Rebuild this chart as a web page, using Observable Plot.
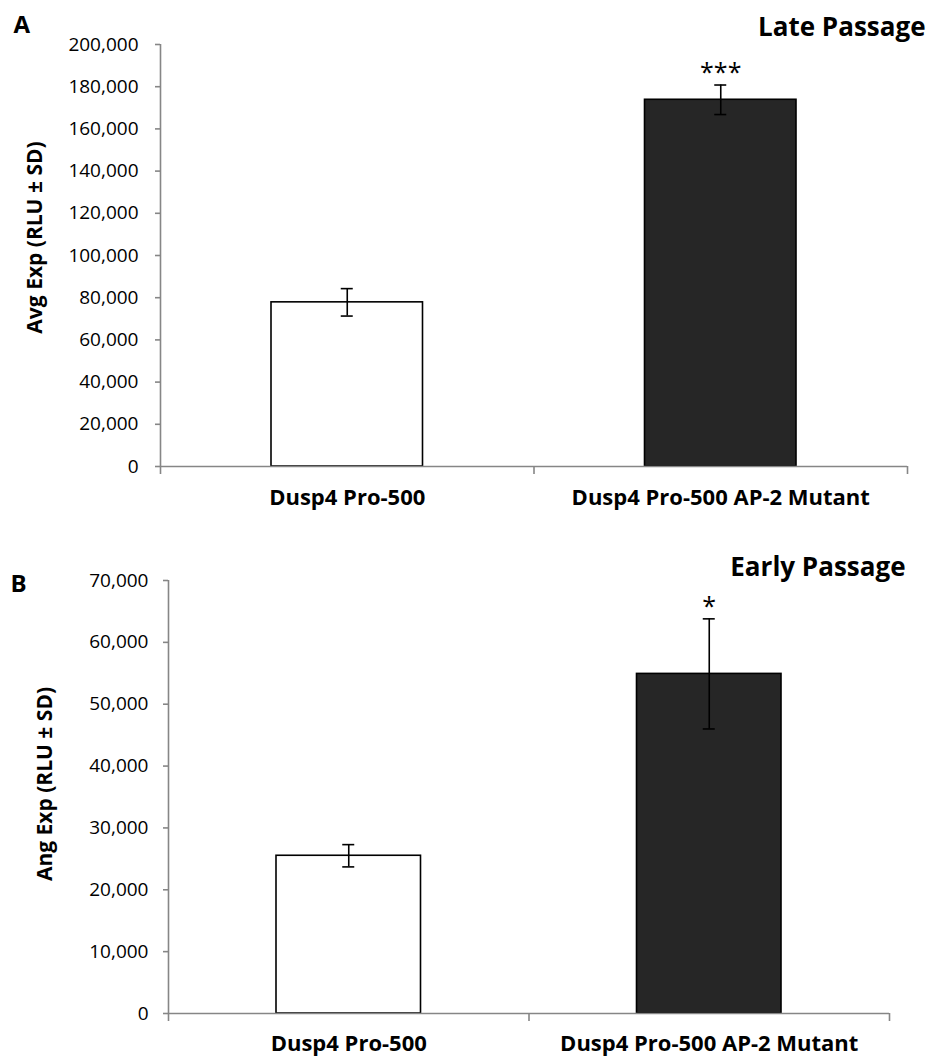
<!DOCTYPE html>
<html><head><meta charset="utf-8">
<script src="https://cdn.jsdelivr.net/npm/d3@7"></script>
<script src="https://cdn.jsdelivr.net/npm/@observablehq/plot@0.6"></script>
<style>
body{margin:0;background:#fff;}
#chart svg{display:block;}
</style>
</head><body><div id="chart"></div>
<script>
const categories = ["Dusp4 Pro-500", "Dusp4 Pro-500 AP-2 Mutant"];
const barFills = ["#ffffff", "#262626"];

const lateValues = [77800, 173800];
const lateSD = [6500, 7000];
const lateSig = ["", "***"];
const lateTicks = [0, 20000, 40000, 60000, 80000, 100000, 120000, 140000, 160000, 180000, 200000];

const earlyValues = [25500, 54900];
const earlySD = [1800, 8900];
const earlySig = ["", "*"];
const earlyTicks = [0, 10000, 20000, 30000, 40000, 50000, 60000, 70000];

function panel(o) {
  const n = categories.length;
  const table = categories.map((c, i) => ({
    c, i, mid: i + 0.5, v: o.values[i],
    lo: o.values[i] - o.sd[i], hi: o.values[i] + o.sd[i],
    sig: o.sig[i], fill: barFills[i]
  }));
  const gray = "#868686";
  return Plot.plot({
    width: 930, height: o.height,
    marginTop: o.mt, marginBottom: o.mb, marginLeft: o.ml, marginRight: o.mr,
    style: {fontFamily: "'Open Sans', sans-serif", fontSize: "19px", color: "#000", background: "#fff", overflow: "visible"},
    x: {domain: [0, n], axis: null},
    y: {domain: [0, o.ticks[o.ticks.length - 1]], axis: null},
    marks: [
      Plot.rectY(table, {x1: "i", x2: d => d.i + 1, y: "v", fill: "fill", stroke: "#000", strokeWidth: 1.6, insetLeft: o.inset, insetRight: o.inset}),
      Plot.ruleY([0], {stroke: gray, strokeWidth: 1.6}),
      Plot.ruleX([0], {stroke: gray, strokeWidth: 1.6}),
      Plot.axisY({ticks: o.ticks, tickFormat: d3.format(","), tickSize: 5, tickPadding: o.yPad, stroke: gray, strokeWidth: 1.6, label: null, fontSize: 19}),
      Plot.axisX({ticks: d3.range(n + 1), tickFormat: () => "", tickSize: 8, stroke: gray, strokeWidth: 1.6, label: null}),
      Plot.axisX({ticks: table.map(d => d.mid), tickFormat: d => categories[Math.floor(d)], tickSize: 0, tickPadding: o.xPad, label: null, fontWeight: "bold", fontSize: 22}),
      Plot.ruleX(table, {x: "mid", y1: "lo", y2: "hi", stroke: "#000", strokeWidth: 1.6}),
      Plot.ruleY(table, {y: "lo", x1: "mid", x2: "mid", insetLeft: -6, insetRight: -6, stroke: "#000", strokeWidth: 1.6}),
      Plot.ruleY(table, {y: "hi", x1: "mid", x2: "mid", insetLeft: -6, insetRight: -6, stroke: "#000", strokeWidth: 1.6}),
      Plot.text(table, {x: "mid", y: "hi", text: "sig", dy: -4, lineAnchor: "bottom", fontSize: 25}),
      Plot.text([o.label], {frameAnchor: "left", rotate: -90, dx: o.labelDx, dy: o.labelDy, fontWeight: "bold", fontSize: 21, textAnchor: "middle"}),
      Plot.text([o.title], {frameAnchor: "top-right", dx: o.titleDx, dy: o.titleDy, textAnchor: "end", lineAnchor: "bottom", fontWeight: "bold", fontSize: 26}),
      Plot.text([o.letter], {frameAnchor: "top-left", dx: o.letterDx, dy: o.letterDy, textAnchor: "start", lineAnchor: "bottom", fontWeight: "bold", fontSize: 24})
    ]
  });
}

const el = document.getElementById("chart");
el.append(panel({
  values: lateValues, sd: lateSD, sig: lateSig, ticks: lateTicks,
  label: "Avg Exp (RLU ± SD)", title: "Late Passage", letter: "A",
  height: 530, mt: 44, mb: 64, ml: 160, mr: 23, inset: 111,
  yPad: 17, xPad: 23, labelDx: -125, labelDy: -18,
  titleDx: 18, titleDy: -9, letterDx: -147, letterDy: -12
}));
el.append(panel({
  values: earlyValues, sd: earlySD, sig: earlySig, ticks: earlyTicks,
  label: "Ang Exp (RLU ± SD)", title: "Early Passage", letter: "B",
  height: 529, mt: 50, mb: 46, ml: 168, mr: 41, inset: 108,
  yPad: 15, xPad: 22, labelDx: -123, labelDy: -13,
  titleDx: 16, titleDy: -5, letterDx: -158, letterDy: 11
}));
</script>
</body></html>
